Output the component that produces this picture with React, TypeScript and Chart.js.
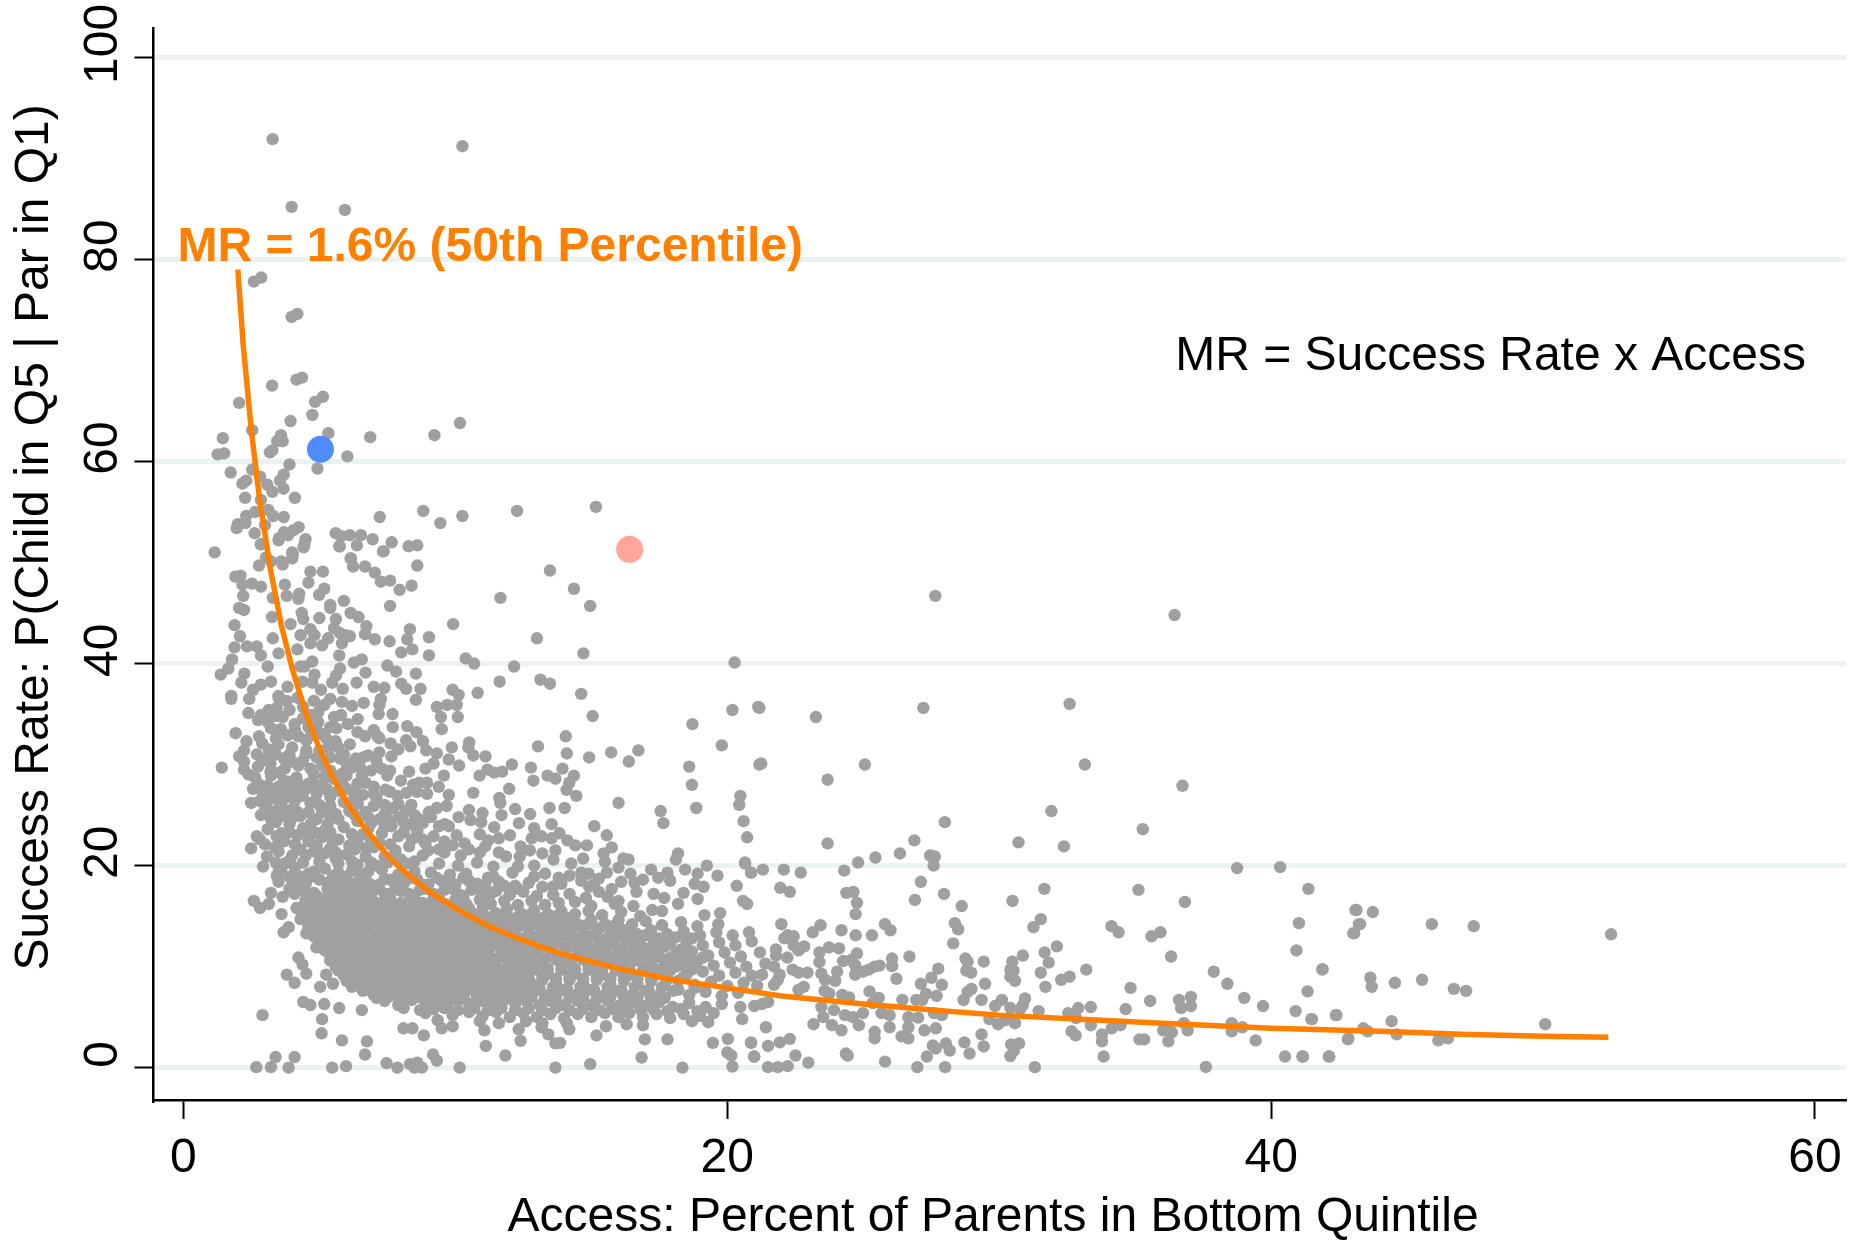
import React, { useEffect, useRef } from "react";
import { Chart, registerables } from "chart.js";

Chart.register(...registerables);

const xTitle = "Access: Percent of Parents in Bottom Quintile ";
const yTitle = "    Success Rate: P(Child in Q5 | Par in Q1)";
const curveLabel = "MR = 1.6% (50th Percentile)";
const formulaLabel = "MR = Success Rate x Access";
const xTickValues = [0, 20, 40, 60];
const yTickValues = [0, 20, 40, 60, 80, 100];

const curveX = [2.0, 2.2, 2.5, 2.8, 3.2, 3.6, 4, 4.5, 5, 5.5, 6, 6.5, 7, 7.5, 8, 9, 10, 11, 12, 13, 14, 15, 16, 18, 20, 22, 25, 28, 30, 33, 36, 40, 44, 47, 50, 52.4];
const curveY = [79, 71.5, 63, 56.3, 49.3, 43.8, 39.5, 35.1, 31.6, 28.7, 26.3, 24.3, 22.6, 21, 19.7, 17.5, 15.8, 14.3, 13.1, 12.1, 11.2, 10.5, 9.8, 8.7, 7.9, 7.1, 6.3, 5.6, 5.2, 4.8, 4.4, 3.9, 3.6, 3.3, 3.1, 3];

const bluePoint = [5.04, 61.2];
const pinkPoint = [16.41, 51.3];

const topOutliers = [3.28,91.9,10.26,91.2,3.98,85.2,5.94,84.9,2.86,78.2,2.59,77.8,4.19,74.6,3.98,74.3,4.36,68.3,4.16,68.1,3.26,67.5,2.05,65.8,5.13,66.4,4.84,65.9,4.74,64.6,3.94,64,10.17,63.8,2.53,63.1,1.45,62.3,3.59,62.6,3.65,62,3.45,62,5.33,62.8,6.87,62.4,9.23,62.6,3.27,61.1,3.18,60.9,1.5,60.8,1.26,60.7,6.03,60.5,3.9,59.7,4.93,59.3,1.74,58.9,2.53,59.2,2.82,58.5,3.69,58.7,3.55,58.1,2.31,58.1,2.17,57.8,3.08,57.7,3.27,57,3.68,57.3,2.27,56.4,2.85,56.2,4.1,56.4,12.27,55.1,15.17,55.5,8.82,55.1,7.22,54.5,10.26,54.6,9.45,53.9,3.12,55.2,2.64,55,2.31,54.6,2,53.8,1.96,53.4,2.28,53.9,3.3,54.6,3.69,54.5,3,53.7,4.24,53.5,4.05,53.2,3.7,53,3.85,52.7,3.52,52.4,2.62,52.9,2.85,51.8,4.49,52.3,4.42,51.5,4.02,50.8,5.6,52.9,5.8,52.6,6.12,52.7,6.53,52.7,6.96,52.3,7.66,52,5.73,51.6,6.38,51.7,7.34,51.1,8.28,51.6,8.6,51.7,6.16,50.4,1.15,51,3.04,50.5,3.6,50.1];

const upperArmLeft = [1.91,48.6,2.1,48.7,2.17,47.8,2.52,47.9,2.85,47.6,2.2,46.7,2.05,45.5,2.23,45.3,1.88,43.8,2.08,42.7,1.88,41.6,2.34,41.7,2.7,41.7,2.85,40.8,1.79,40.4,1.65,39.5,1.37,38.9,3.1,39.7,2.24,39,2.13,38.1,2.56,37.4,2.85,37.9,3.22,38.2,2.42,36.5,1.76,36.8,1.76,36.5,3.5,36.8,3.83,37.7,4.3,39.7,2.85,51.8,3.5,52.2,4.45,51.8,2.78,49.7,3.22,50.1,3.65,49.8,4,50.4,4,51,4.67,49.1,5.13,49.1,4.6,48,5.18,47.4,4.99,46.8,4.26,46.9,4.23,46.4,3.73,47.8,3.8,46.7,3.29,46.5,5.4,45.8,5.4,45.5,4.35,45,4.41,44.4,5,44.5,3.94,43.9,3.26,44.6,5.61,44.4,5.54,43.5,5.98,42.8,5.76,43,6.12,42.7,4.67,43.4,4.31,42.8,4.82,42.8,4.67,42,5.1,41.8,5.32,42.5,5.83,42,3.29,42.5,3.5,41,4.19,41.4,5.73,40.8,4.74,40.2,4.45,39.7,4.82,38.9,5.76,39.5,5.61,38.8,5.47,38.1,5.86,37.5,4.38,38.2,4.74,38.1,5.06,37.4,5.18,35.9,3.5,36.6,3.8,36.3,3.43,35.6,3.14,35.4,2.85,34.9,2.74,34.4,2.39,35.1,4.09,34,3.65,34.7,4.67,34.9,4.96,35.2,4.96,34.2,4.89,33.5,4.52,32.4,5.25,32.6,5.32,31.7,5.76,30.6,6.34,30.6,3.22,33.6,3.58,33.5,3.83,32.9,4.23,32.8,2.78,32.8,2.32,32.3,1.92,33.1,3.14,31.5,3.5,32,4,31.7,4.52,31.4,2.23,31.4,2.05,30.8,2.23,30.3,2.74,29.8,2.23,29.5,1.41,29.7];

const upperArmRight = [5.75,51.6,7.36,51.1,6.15,50.4,6.24,49.6,6.68,49.6,7.04,49,7.26,48.1,7.6,48.2,8.6,49.7,8.39,47.7,7.95,47.3,7.6,45.7,5.9,46.2,6.15,45,6.44,44.6,6.73,43.7,6.68,42.9,7.04,42.4,7.58,42.2,8.01,41.1,8.42,41.4,9.03,40.8,6.27,40.1,6.56,40.4,6.7,39.1,7.5,39.8,7.82,39.2,8.55,39,6.37,38.1,7,37.7,7.39,37.6,8.01,38,8.19,37.5,8.72,37.5,8.55,36.4,9.9,37.4,10.12,36.9,10.05,35.9,9.7,35.9,9.32,35.7,9.47,34.7,10.09,34.7,9.5,33.5,5.83,36.2,6.2,35.8,6.63,36.1,7.26,36.5,7.21,35.9,7.18,35,7.69,35,6.41,34.5,6.05,34,5.54,34.7,5.62,33.6,6.68,32.8,7.14,32.8,7.21,32.6,8.23,33.8,8.57,33.2,8.81,32.3,8.19,32.4,8.35,31.8,8.93,31.4,9.32,31.1,7.62,32.1,7.9,31.5,7.65,30.8,6.79,30.9,6.12,32,5.69,31.7,9.87,31.7,9.76,30.5,10.14,29.9,10.51,32.2,10.48,31.7,10.66,30.9,11.11,30.8,12.08,30,12.78,29.7,11.18,29.5,10.89,28.9,11.43,29.2,11.72,29.3,13.39,28.9,13.68,28.6,13.94,29.6,14.36,28.9,12.87,28.4,14.19,28.2,14.09,27.5,14.45,26.9,11.98,27.6,11.62,26.7,11.65,26.2,10.66,27.2,9.58,28.9,9.39,27.8,9.76,27,9.68,25.9,9.32,25.7,8.96,28.2,8.67,28.2,8.45,28,8.59,27.3,8.96,27.1];

const scatteredMiddle = [13.48,49.2,14.36,47.4,14.96,45.7,11.66,46.5,9.92,43.9,13,42.5,9.03,42.6,8.33,43.4,8.23,42.4,14.71,41,20.27,40.1,10.38,40.5,10.69,40,12.16,39.7,11.63,38.2,13.13,38.4,13.48,38,14.63,37,10.82,37.1,15.05,34.8,20.19,35.4,18.72,34,21.14,35.7,19.8,31.9,13.04,31.8,14.06,32.8,14.1,31.1,14.92,30.7,15.73,31.2,16.73,31.4,16.38,30.3,18.6,29.8,18.7,28,16,26.2,18.86,25.7,20.48,26.9,20.44,26,21.18,30,17.55,25.4,17.65,24.2,20.6,24.4,20.73,22.8,27.65,46.7,36.45,44.8];

const midBand = [2.64,28.7,3.22,28.9,3.73,29.6,4.23,29.9,4.67,29.6,5.1,29.9,4.16,28.7,4.82,28,3.5,27.8,2.56,27.6,2.93,27.1,3.8,26.8,4.38,26.9,2.49,26.2,3.07,26.2,3.5,26.4,3.94,25.5,4.67,26.2,2.85,25,3.22,24.6,3.54,24.8,5.1,25.3,5.69,28.9,5.9,29.2,5.83,28.2,6.41,30.3,6.56,28.9,6.7,28.2,7,27.8,7.29,29.6,7.5,28.9,7.43,27.5,7.87,26.9,6.23,27.3,6.41,26.1,7,25.9,7.72,25.7,8.38,26,7.21,24.6,7.65,23.9,7.94,24.8,8.38,24.1,8.67,24.6,9.03,25.3,9.61,24.1,10.12,24.8,10.56,24.5,10.95,24.3,11.43,23.8,10.05,23,9.76,23.9,10.34,22.2,11.21,22.5,12.01,23,12.34,24.2,12.75,25.1,13.46,25.7,14.02,25.7,13.54,24.1,15.11,23.9,15.57,23,13.83,23.2,14.12,22.5,14.41,22,14.84,22,15.75,21.8,15.45,21.2,12.81,22.7,13.17,22.9,13.54,22.7,13.68,21.5,13.61,20.6,12.74,21.5,12.37,20.9,11.86,20.9,16.18,20.7,16.37,20.6,16,19.8,18.19,21.2,18.11,20.6,19.25,20,18.45,19.6,17.46,18.8,19.64,19,18.91,19.2,20.66,20.2,20.88,19.3,16.44,19.2,16.59,18.3,16.66,17.4,15.57,19.3,15.28,18.7,14.63,19.3,14.63,18.5,14.92,17.9,15.28,17.4,15.75,17.7,14.26,20.2,13.58,17.9,16,16.5,15.86,16.2,16.55,16,17.29,17.2,17.68,16.8,17.9,18.5,18.39,17.3,18.91,16.7,19.13,17.9,18.8,18.2,20.35,18,20.58,16.5,20.73,16.2,18.19,16.2,17.24,15.6,17.6,15.5,19.16,15.1,19.74,15.3,19.67,14.2,
4.2,28.1,4.9,27.1,5.4,26.8,5.9,26.3,6.1,25.4,5.6,25.1,4.9,24.6,4.3,24.9,3.9,24.1,3.1,23.6,3.6,23.2,4.4,23.7,5.3,24.1,5.9,23.8,6.4,24.4,6.9,24.2,6.6,23.1,7.3,23.2,7.9,22.9,8.6,23.4,9.2,22.9,8.9,22.2,8.3,21.9,7.6,22.1,7,21.8,6.4,22.3,5.7,22.6,5.1,22.8,4.6,22.4,4.1,22.1,3.5,21.4,4,21,4.8,21.4,5.4,21.7,6,21.1,6.7,20.9,7.4,20.9,8,20.6,8.8,21,9.6,21.3,10.2,21,10.9,21.3,9.4,20.2,10.1,20,10.8,20.3,11.4,19.9,12.3,19.9,12.9,20,5,20.4,5.7,20.2,4.4,20.3,6.4,20.1,7.1,20];

const coreUpper = [3.6,19.4,4.1,19.8,4.6,19.2,5.2,19.7,5.7,19.3,6.2,19.5,6.8,19.4,7.3,19.6,7.9,19.1,8.5,19.4,9.1,19.3,9.8,19.1,10.4,19.2,11.2,18.8,12.1,19.3,12.9,18.9,13.3,19.2,
4,18.5,4.5,18.2,5,18.6,5.4,18.1,5.9,18.7,6.3,18.2,6.7,18.6,7.2,18.1,7.6,18.6,8.1,18.2,8.6,18.6,9,18.1,9.5,18.5,10,18.1,10.5,18.5,11.1,18,11.6,18.4,12.2,18,12.7,18.3,13.2,17.9,13.9,18.2,
4.4,17.6,4.8,17.3,5.3,17.7,5.7,17.2,6.1,17.6,6.5,17.2,7,17.6,7.4,17.2,7.8,17.7,8.3,17.2,8.7,17.6,9.2,17.2,9.6,17.6,10.1,17.2,10.6,17.6,11,17.1,11.5,17.5,12,17.1,12.5,17.4,13,17,13.6,17.1,14.2,17.2,
4.5,16.6,4.9,16.2,5.2,16.7,5.6,16.3,6,16.7,6.4,16.3,6.8,16.7,7.2,16.2,7.6,16.7,8,16.3,8.4,16.7,8.8,16.3,9.2,16.7,9.6,16.2,10,16.6,10.4,16.2,10.9,16.6,11.3,16.2,11.8,16.5,12.3,16.1,12.8,16.5,13.3,16.1,13.8,16.3,14.4,16.4,15,16,
4.6,15.6,5,15.3,5.4,15.7,5.8,15.3,6.2,15.7,6.6,15.3,7,15.7,7.4,15.3,7.8,15.7,8.2,15.3,8.6,15.7,9,15.3,9.4,15.7,9.8,15.3,10.2,15.7,10.6,15.3,11,15.7,11.5,15.3,11.9,15.7,12.4,15.3,12.9,15.6,13.4,15.2,13.9,15.5,14.4,15.2,14.9,15.5,15.4,15.1,16.1,15.4,16.8,15,
4.7,14.6,5.1,14.3,5.5,14.7,5.9,14.2,6.3,14.7,6.7,14.3,7.1,14.7,7.5,14.3,7.9,14.7,8.3,14.3,8.7,14.7,9.1,14.3,9.5,14.7,9.9,14.3,10.3,14.7,10.7,14.3,11.1,14.7,11.6,14.3,12,14.7,12.5,14.3,13,14.6,13.5,14.2,14,14.6,14.5,14.2,15,14.6,15.5,14.2,16,14.6,16.5,14.2,17,14.5,17.6,14.1,18.3,14.4,18.9,14,
4.9,13.6,5.3,13.2,5.7,13.7,6.1,13.3,6.5,13.7,6.9,13.3,7.3,13.7,7.7,13.3,8.1,13.7,8.5,13.3,8.9,13.7,9.3,13.3,9.7,13.7,10.1,13.3,10.5,13.7,10.9,13.3,11.3,13.7,11.8,13.3,12.2,13.7,12.7,13.3,13.2,13.7,13.7,13.3,14.2,13.7,14.7,13.2,15.2,13.6,15.7,13.2,16.2,13.6,16.7,13.2,17.2,13.6,17.8,13.2,18.4,13.5,19,13.1,19.6,13.4,20.2,13.1,20.8,13.4];

const coreLower = [5,12.6,5.4,12.2,5.8,12.7,6.2,12.3,6.6,12.7,7,12.3,7.4,12.7,7.8,12.3,8.2,12.7,8.6,12.3,9,12.7,9.4,12.3,9.8,12.7,10.2,12.3,10.6,12.7,11,12.3,11.4,12.7,11.9,12.3,12.3,12.7,12.8,12.3,13.3,12.7,13.8,12.3,14.3,12.7,14.8,12.2,15.3,12.6,15.8,12.2,16.3,12.6,16.8,12.2,17.3,12.6,17.9,12.2,18.5,12.5,19.1,12.1,19.7,12.4,20.3,12.1,20.9,12.5,
5.2,11.6,5.6,11.2,6,11.7,6.4,11.3,6.8,11.7,7.2,11.3,7.6,11.7,8,11.3,8.4,11.7,8.8,11.3,9.2,11.7,9.6,11.3,10,11.7,10.4,11.3,10.8,11.7,11.2,11.3,11.7,11.7,12.1,11.3,12.5,11.7,13,11.3,13.5,11.7,14,11.3,14.5,11.7,15,11.2,15.5,11.6,16,11.2,16.5,11.6,17,11.2,17.5,11.6,18.1,11.2,18.7,11.5,19.3,11.1,19.9,11.4,20.5,11,21.2,11.4,
5.4,10.6,5.8,10.2,6.2,10.7,6.6,10.3,7,10.7,7.4,10.3,7.8,10.7,8.2,10.3,8.6,10.7,9,10.3,9.4,10.7,9.8,10.3,10.2,10.7,10.6,10.3,11,10.7,11.4,10.3,11.9,10.7,12.3,10.3,12.7,10.7,13.2,10.3,13.7,10.7,14.2,10.3,14.7,10.7,15.2,10.2,15.7,10.6,16.2,10.2,16.7,10.6,17.2,10.2,17.7,10.6,18.3,10.2,18.9,10.5,19.5,10.1,20.1,10.4,20.7,10,21.4,10.3,
5.7,9.6,6.1,9.2,6.5,9.7,6.9,9.3,7.3,9.7,7.7,9.3,8.1,9.7,8.5,9.3,8.9,9.7,9.3,9.3,9.7,9.7,10.1,9.3,10.5,9.7,10.9,9.3,11.3,9.7,11.7,9.3,12.1,9.7,12.5,9.3,12.9,9.7,13.4,9.3,13.9,9.7,14.4,9.3,14.9,9.7,15.4,9.2,15.9,9.6,16.4,9.2,16.9,9.6,17.4,9.2,17.9,9.6,18.5,9.2,19.1,9.5,19.7,9.1,20.3,9.4,20.9,9.1,
6,8.6,6.4,8.2,6.8,8.7,7.2,8.3,7.6,8.7,8,8.3,8.4,8.7,8.8,8.3,9.2,8.7,9.6,8.3,10,8.7,10.4,8.3,10.8,8.7,11.2,8.3,11.6,8.7,12,8.3,12.4,8.7,12.8,8.3,13.2,8.7,13.7,8.3,14.2,8.7,14.7,8.3,15.2,8.7,15.7,8.2,16.2,8.6,16.7,8.2,17.2,8.6,17.7,8.2,18.2,8.6,18.8,8.2,19.4,8.5,20,8.1,20.6,8.4,21.1,8.1,
6.6,7.6,7,7.2,7.4,7.7,7.8,7.3,8.2,7.7,8.6,7.3,9,7.7,9.4,7.3,9.8,7.7,10.2,7.3,10.6,7.7,11,7.3,11.4,7.7,11.8,7.3,12.2,7.7,12.6,7.3,13,7.7,13.5,7.3,14,7.7,14.5,7.3,15,7.7,15.5,7.2,16,7.6,16.5,7.2,17,7.6,17.5,7.2,18,7.6,18.6,7.2,19.2,7.5,19.8,7.1,20.4,7.4,
7.4,6.6,7.9,6.2,8.4,6.7,8.9,6.3,9.3,6.7,9.7,6.2,10.1,6.7,10.5,6.3,11,6.6,11.4,6.2,11.8,6.7,12.2,6.3,12.6,6.6,13.1,6.2,13.5,6.6,14,6.2,14.5,6.6,15,6.2,15.6,6.6,16,6.1,16.5,6.5,17,6.1,17.5,6.5,18,6,18.6,6.4,19.2,6,19.8,6.3,
8.9,5.4,9.9,5.2,10.5,5.5,11,5.1,11.5,5.5,12,5,12.5,5.4,13,5,13.5,5.3,14,4.9,14.5,5.3,15,5,15.5,5.4,16,5,16.4,5.4,16.9,5,17.4,5.3,17.9,4.9,18.4,5.3,19,5.1,19.5,5.4,10.9,4.6,11.6,4.4,12.6,4.6,13.2,4.4,14.1,4.4,16.3,4.3,16.9,4.2,18.7,4.6,19.3,4.5];

const leftArmFill = [3.1,34.2,3.4,31,3.7,30.6,3.2,30.1,2.7,31,2.9,30.4,3.5,29.2,3.9,28.3,3.1,27.9,2.8,28,2.4,29,3.3,27.1,3.6,26.1,3.9,27.4,4.5,27.6,4.1,26.4,2.8,26.4,3,25.5,3.4,25.4,3.7,25.1,4.2,25.3,4.6,25.3,5,26,5.3,27.5,5.5,28.6,5.2,28.8,4.8,29,4.4,30.4,4.9,30.7,4,30.3,4.7,32.9,4.1,33.4,3.4,34.8,3.9,35.4,4.4,35.7,4.2,36.6,4.8,36.3,5.4,36.5,5.1,33,5.6,32.3,5.9,31,6.2,29.7,6.4,28.1,6.9,29.4,6,27.6,6.6,27,7.1,26.7,6.7,25.3,7.4,25.1,7.9,26.1,8.2,27.2,5.4,23.3,4.9,23.2,4.2,23,3.7,22.4,4.5,21,5.2,21.2,5.6,20.7,6.3,21.6,6.9,22.5,7.4,23.8,8.1,23.3,8.8,22.6,9.6,22.4,9.4,21.6,8.5,20.4,7.7,20.9,6.2,20.4,6.9,20.3,7.5,20.3,8.2,20.2,3.4,20.3,3.9,20.5,2.7,22.9,3,22.1,3.9,18.9,3.5,18.4,3.9,17.7,4.3,18.9,4.8,19.4,5.5,19,6,18.9,6.6,19.1];

const midFill = [5.6,21.3,6.1,22,6.7,21.7,7.2,22.3,7.8,21.5,8.4,22.6,9,21.5,9.9,22,10.5,21.6,11.1,21.9,11.6,21.3,4.3,21.6,4.9,22,5.5,22.3,3.9,23.3,4.6,23.1,5.2,23.5,5.7,24.6,6.2,23.1,6.8,23.7,7.6,24.5,8.1,24.3,8.8,24.2,9.4,23.9,9.1,24.8,8.5,25,3.4,24.3,4,24.7,4.7,24.2,5.4,24.8,6.3,25,6.8,24.8,7.4,26,6.2,26.2,5.4,25.9,5.7,27.4,6.3,26.9,7,27.1,7.6,27.3,8.2,25.4,3.1,26.8,3.6,27.3,4.2,27.2,4.6,28.1,5.1,28,5.4,29.4,6,28.9,6.5,29.7,7.1,30.4,7.6,29.4,8,28.4,8.3,29.3,8.9,29.6,9.2,30.1,3.2,29.3,3.7,28.4,3.1,30.7,3.9,31,4.5,31,5,31.4,5.4,30.7,6,30.1,6.6,30.7,7.2,31.2,2.9,32.1,3.4,32.6,4.6,33.7,4.4,34.6,5.4,33.7,5.8,34.9,6.4,33.2,7,33.4,7.7,33.7,10.5,25.5,11,25.2,11.7,25,12.2,25.6,10.9,23.1,11.6,22.7,12.4,21.9,12.9,23.7,13.2,21.2,14.7,20.7,14.9,19.2,15.5,20.4,15.1,18.1,16.1,18.4,15.6,16.9,14.8,16.8,16.9,18.6,17.2,19.6,17.8,19.3,14.2,19,13.8,18.8];

const coreFill = [4.4,16,4.8,15.8,5.1,16.2,5.4,15.9,5.8,16,6.1,16.2,6.5,15.9,6.8,15.9,7.1,16.3,7.5,16,7.8,16.1,8.1,15.8,8.5,16.2,8.9,15.9,9.3,16.1,9.7,15.8,10.1,16,10.5,15.8,
4.9,17,5.5,16.9,5.8,17.7,6.2,17.1,6.7,17.8,6.9,17.1,7.2,17.7,7.6,17.2,8,17.5,8.5,17.1,8.9,17.7,9.4,17.1,9.9,17.7,10.3,17,10.8,17.9,11.3,17.2,11.8,18,12.3,17.7,
4.7,18.9,5.3,18.3,5.7,18.4,6.1,18,6.5,18.8,6.9,18.1,7.4,18.7,7.8,18.1,8.3,18.7,8.8,18.1,9.3,18.8,9.8,18.4,10.3,18.8,10.8,18.2,11.4,18.9,
4.4,15,4.7,15.2,5.2,14.9,5.6,15,6,15,6.4,14.8,6.8,15.1,7.2,14.9,7.6,15.1,8,14.9,8.4,15.1,8.8,14.9,9.2,15.1,9.6,14.9,10,15.2,10.4,14.9,10.9,15,11.3,14.9,11.8,15.1,12.2,14.8,12.7,15.1,13.2,14.8,13.7,15,14.2,14.8,
4.6,14,5,13.7,5.3,14,5.7,13.9,6.1,14,6.5,13.9,6.9,14.2,7.3,13.8,7.7,14,8.1,13.9,8.5,14.2,8.9,13.9,9.3,14,9.7,13.8,10.1,14.1,10.5,13.9,10.9,14.1,11.4,13.8,11.9,14.1,12.3,13.9,12.8,14.1,13.3,13.8,13.8,14,14.3,13.8,14.8,14.1,15.3,13.8,15.8,14,16.4,13.7,
4.8,13,5.2,12.8,5.6,13,6,12.7,6.4,13,6.8,12.8,7.2,13,7.6,12.7,8,13.1,8.4,12.8,8.8,13,9.2,12.8,9.6,13,10,12.8,10.4,13.1,10.8,12.8,11.2,13,11.6,12.8,12,13.1,12.5,12.8,13,13,13.5,12.8,14,13.1,14.5,12.8,15,13,15.5,12.7,16,13,16.5,12.7,17,13.1,17.5,12.8,18.1,12.9,18.7,12.8,
5.1,12.1,5.6,11.8,6,12.1,6.4,11.8,6.8,12.1,7.2,11.8,7.6,12.1,8,11.8,8.4,12.1,8.8,11.8,9.2,12.1,9.6,11.9,10,12.1,10.4,11.8,10.8,12.1,11.3,11.9,11.7,12.2,12.2,11.9,12.6,12.1,13.1,11.8,13.6,12.1,14.1,11.9,14.6,12.2,15.1,11.8,15.6,12.1,16.1,11.8,16.6,12,17.1,11.8,17.7,12,18.3,11.7,
5.4,11,5.8,10.8,6.2,11,6.6,10.8,7,11.1,7.4,10.8,7.8,11.1,8.2,10.8,8.6,11,9,10.8,9.4,11.1,9.8,10.8,10.2,11,10.6,10.8,11.1,11,11.5,10.8,12,11.1,12.4,10.8,12.8,11.1,13.3,10.8,13.8,11,14.3,10.8,14.8,11.1,15.3,10.8,15.8,11,16.3,10.8,16.8,11.1,17.3,10.8,17.9,10.9,18.5,10.7,19.1,10.9,
5.6,10,6,9.8,6.4,10.1,6.8,9.8,7.2,10.1,7.6,9.8,8,10.1,8.4,9.8,8.8,10.1,9.2,9.8,9.6,10.1,10,9.8,10.4,10.1,10.8,9.8,11.2,10.1,11.6,9.8,12,10.1,12.5,9.8,12.9,10.1,13.4,9.8,13.9,10.1,14.4,9.8,14.9,10.1,15.4,9.8,15.9,10.1,16.4,9.8,17,10,17.5,9.7,18.1,10,18.7,9.7,
5.9,9.1,6.3,8.8,6.7,9.1,7.1,8.8,7.5,9.1,7.9,8.8,8.3,9.1,8.7,8.8,9.1,9.1,9.5,8.8,9.9,9.1,10.3,8.8,10.7,9.1,11.1,8.8,11.5,9.1,11.9,8.8,12.3,9.1,12.7,8.8,13.2,9.1,13.7,8.8,14.2,9.1,14.7,8.8,15.2,9.1,15.7,8.8,16.2,9.1,16.7,8.8,17.2,9.1,17.8,8.8,18.4,9,
6.2,8,6.7,7.7,7.1,8,7.5,7.7,7.9,8,8.3,7.8,8.7,8.1,9.1,7.8,9.5,8,9.9,7.8,10.3,8.1,10.7,7.8,11.1,8.1,11.5,7.8,11.9,8,12.3,7.8,12.7,8.1,13.1,7.8,13.6,8,14.1,7.8,14.6,8,15.1,7.7,15.6,8,16.1,7.7,16.6,8,17.1,7.7,17.6,8,18.2,7.7,18.8,7.9,
7.1,6.9,7.6,7.1,8.1,6.9,8.6,7,9,6.9,9.5,7,9.9,6.8,10.3,7,10.8,6.9,11.2,7,11.6,6.8,12,7,12.4,6.9,12.8,7,13.3,6.9,13.7,7,14.2,6.9,14.7,7,15.2,6.8,15.7,7,16.2,6.8,16.7,6.9,17.2,6.8,17.7,6.9,
8.1,5.9,8.7,5.7,9.2,5.8,9.6,5.9,10.1,5.7,10.7,5.9,11.2,5.7,11.7,5.9,12.2,5.7,12.7,5.9,13.2,5.7,13.7,5.9,14.2,5.7,14.7,5.8,15.3,5.7,15.8,5.8,16.3,5.7,16.8,5.8,17.3,5.7,17.8,5.6,18.3,5.8,18.9,5.6];

const lowEdge = [2.81,22.6,2.49,21.7,2.93,19.9,3.43,22.9,3.36,21.8,3.07,20.9,3.51,19.7,3.43,19,3.73,20.2,4.09,18.3,3.22,17.3,3.65,16.9,4.09,17.2,2.59,16.5,2.82,15.8,3.14,16.2,4.16,15.8,3.61,15.2,4.31,14.7,3.87,13.9,3.68,13.4,4.52,13.3,4.89,13,4.89,11.9,4.23,10.9,4.38,10.2,3.8,9.2,4.09,8.4,4.52,9.3,5.25,9.2,5.03,8,5.5,8.3,4.41,6.5,4.67,6.2,5.18,6.3,5.73,5.9,6.56,5.7,2.91,5.2,5.1,4.8,5.08,3.4,5.83,2.7,6.75,2.6,6.68,1.3,2.68,0.05,3.22,0.05,3.87,0,5.47,0,5.98,0.15,3.39,1.05,4.09,1.05,7.47,0.45,7.87,0,8.33,0.35,8.6,0.5,8.5,0,8.77,0,10.16,0,13.68,0,14.96,0.35,16.85,1,18.35,0,20.19,0.1,9.18,1.3,9.32,0.7,11.84,1.2,11.12,2.15,13.68,2.4,13.85,2.45,12.4,2.65,12.33,3.8,8.84,3.2,8.09,3.9,8.42,3.9,9.5,3.9,9.9,4.1,9.35,4.7,11.07,3.7,15.19,3.2,15.54,4.1,16.97,2.8,17.8,2.8,19.47,2.45,20.02,2.85,20,1.5,20.15,1.2,20.88,2.45,20.99,1.1,13.42,3.3,13.17,4,14.19,3.8];

const rightSpread = [21.18,35.6,23.26,34.7,27.21,35.6,32.59,36,21.25,30.1,25.06,30,33.15,30,23.69,28.5,36.74,27.9,28,24.3,31.92,25.4,35.28,23.6,23.69,22.2,26.88,22.5,26.35,21.2,25.45,20.8,24.81,20.3,24.3,19.5,30.71,22.3,32.38,21.9,27.46,21,27.63,20.9,27.59,20,27.12,18.4,38.75,19.75,40.33,19.85,20.65,20.3,21.31,19.6,20.87,19.3,22.08,19.6,22.7,19.3,21.95,17.8,22.3,17.4,24.38,17.3,24.64,17.4,24.77,16.3,24.72,15.2,27.97,17.2,26.9,16.6,28.62,16,30.49,16.5,31.66,17.7,35.12,17.6,36.83,16.4,41.37,17.7,43.1,15.6,43.23,14.2,43.02,13.3,41.02,14.3,40.93,11.6,41.88,9.7,41.34,7.55,40.9,5.6,41.48,4.8,42.38,5.2,42.82,2.8,40.51,1.1,41.15,1.1,42.12,1.1,37.6,0.07,39.7,6.1,39.01,6.9,38.39,8.3,37.89,9.5,36.32,11,35.6,13,35.93,13.4,34.39,13.4,34.13,14,33.2,9.7,34.83,7.9,32.12,12,31.67,11.4,31.82,10.4,31.53,9.4,30.87,11.1,31.53,14.7,31.26,13.9,32.28,8.7,32.59,9,31.7,8,30.48,10.5,30.41,9.7,30.53,9.6,30.41,9,30.58,8.6,29.43,10.5,28.76,10.8,28.84,10.5,28.79,9.6,28.97,9.4,29.48,8.3,28.31,12.3,28.49,13.7,28.37,14.3,26.7,11,27.76,9.8,27.51,8.9,27.89,8.2,27.12,8.3,26.22,8.8,26.06,10.8,26.06,10.05,25.6,10.1,25.42,10,25.2,9.7,24.99,9.5,24.7,9.2,25.8,14.2,26,13.6,25.32,13.1,24.72,13.1,24.2,13.6,23.43,14.1,23.14,13.4,21.99,14.2,22.44,13,22.22,13.1,22.1,12.8,22.83,12,22.62,11.6,22.44,12.1,23.74,11.9,24.11,11.8,21.79,11.7,21.79,11.1,22.21,10.9,23.39,11.4,23.39,10.45,24.77,11.3,24.26,10.55,24.55,10.65,24.7,10.15,21.72,10,22.4,9.7,22.62,9.4,22.95,9.4,23.46,9.3,24.04,9.5,21.93,9.2,21.28,9.2,23.6,8.7,23.97,8.6,21.72,8.2,21.86,8.7,22.81,8,22.62,7.7,23.58,7.6,23.75,7.35];

const rightLine = [25.23,7.55,24.23,7.2,24.48,6.95,25.57,6.9,25.35,6.4,26.44,6.7,26.95,6.7,27.31,7.3,27.17,6.7,27.7,7.1,28.69,6.7,28.84,7.5,28.98,7.8,29.35,6.7,29.85,6.1,30.1,6.7,30.95,6.85,30.87,6.2,30.77,5.8,30.41,5.9,31.45,5.6,32.91,5.9,32.54,5.4,33.37,6,34.65,5.8,35.55,6.6,36.61,6.7,37.05,7,36.69,5.9,37.05,6.1,20.48,6,20.55,4.8,20.99,6.1,21.28,6.3,21.5,6.5,21.42,4,20.87,2.5,21.5,2.15,21.93,2.5,22.3,2.85,20.99,1.1,22.51,1.2,22.98,0.5,21.5,0.05,21.86,0.05,22.22,0.15,23.17,4.3,23.46,6,23.53,5,23.85,4.2,24.2,3.7,23.92,5.7,24.33,5.2,24.62,5,24.99,5.4,24.84,4.2,25.42,3.55,25.42,2.9,25.67,5.4,25.97,5.2,25.97,4,26.41,3.1,26.66,2.9,26.66,4,26.66,5,27.02,4.95,27.25,3.7,27.67,3.9,27.6,5.4,27.89,5.2,24.36,1.4,24.43,1.2,25.8,0.6,26.99,0.05,27.34,1.1,27.56,2.2,27.67,1.9,28.04,2.4,28.18,1.7,28.01,0.05,28.72,2.5,28.91,1.4,29.35,3.3,29.43,2.1,29.64,4.8,29.96,4.3,30.22,4.7,30.58,4.4,30.44,2.3,30.73,2.4,30.54,1.7,30.41,1.15,31.31,0.05,32.66,3.6,32.81,3.2,32.83,4.9,33.37,4.2,33.78,3.3,33.78,2.6,34.14,3.9,34.46,4.2,33.84,1.1,35.16,2.8,35.33,2.8,36.03,3.7,36.35,3.5,36.22,2.6,36.79,4.4,36.93,3.7,38.55,4.4,38.55,3.6,38.94,4,39.43,2.7,36.15,3.9];

const farRight = [43.14,15.6,43.74,15.4,43.27,14.2,43.05,13.3,45.91,14.2,47.45,14,52.5,13.2,41.89,9.75,43.65,8.9,43.7,8,44.55,8.4,45.55,8.7,46.72,7.8,47.17,7.6,41.5,4.8,42.4,5.2,44.43,4.6,50.08,4.3,43.39,3.9,43.55,3.6,44.62,3.3,42.84,2.9,46.15,2.7,46.5,2.9,42.14,1.1,41.17,1.1];

const toPoints = (flat: number[]) => {
  const out: { x: number; y: number }[] = [];
  for (let i = 0; i < flat.length; i += 2) out.push({ x: flat[i], y: flat[i + 1] });
  return out;
};

const fontFamily = '"Liberation Sans", Arial, sans-serif';

const textPlugin = {
  id: "freeText",
  afterDatasetsDraw(chart: any) {
    const { ctx, scales } = chart;
    ctx.save();
    ctx.textBaseline = "middle";
    ctx.textAlign = "left";
    ctx.fillStyle = "#ff7f00";
    ctx.font = `bold 48px ${fontFamily}`;
    ctx.fillText(curveLabel, scales.x.getPixelForValue(-0.22), scales.y.getPixelForValue(81.15));
    ctx.fillStyle = "#000";
    ctx.font = `48px ${fontFamily}`;
    ctx.fillText(formulaLabel, scales.x.getPixelForValue(36.47), scales.y.getPixelForValue(70.35));
    ctx.restore();
  },
};

export default function App() {
  const ref = useRef<HTMLCanvasElement>(null);
  useEffect(() => {
    const chart = new Chart(ref.current as HTMLCanvasElement, {
      type: "scatter",
      data: {
        datasets: [
          {
            type: "line",
            label: "MR = 1.6%",
            data: curveX.map((x, i) => ({ x, y: curveY[i] })),
            borderColor: "#ff7f00",
            borderWidth: 5.5,
            pointRadius: 0,
            fill: false,
            tension: 0,
            order: 0,
          },
          {
            label: "Highlight 1",
            data: [{ x: bluePoint[0], y: bluePoint[1] }],
            backgroundColor: "#4f8cff",
            borderWidth: 0,
            pointRadius: 13.5,
            order: 1,
          },
          {
            label: "Highlight 2",
            data: [{ x: pinkPoint[0], y: pinkPoint[1] }],
            backgroundColor: "#ffa59a",
            borderWidth: 0,
            pointRadius: 13.5,
            order: 1,
          },
          {
            label: "Colleges",
            data: [topOutliers, upperArmLeft, upperArmRight, scatteredMiddle, midBand, midFill, leftArmFill, coreUpper, coreLower, coreFill, lowEdge, rightSpread, rightLine, farRight].flatMap(toPoints),
            backgroundColor: "#a0a0a0",
            borderWidth: 0,
            pointRadius: 6.2,
            order: 2,
          },
        ],
      },
      options: {
        responsive: false,
        animation: false,
        layout: { autoPadding: false, padding: { top: 28, right: 6, left: 0, bottom: 0 } },
        plugins: { legend: { display: false }, tooltip: { enabled: false } },
        scales: {
          x: {
            type: "linear",
            min: -1.1,
            max: 61.14,
            afterFit: (s: any) => { s.height = 142; s.paddingRight = 0; s.paddingLeft = 0; },
            afterBuildTicks: (s: any) => { s.ticks = xTickValues.map((value) => ({ value })); },
            grid: { drawOnChartArea: false, drawTicks: true, tickLength: 19, tickWidth: 2, tickColor: "#000" },
            border: { color: "#000", width: 2.5 },
            ticks: { color: "#000", font: { family: fontFamily, size: 48 }, padding: 11, maxRotation: 0, minRotation: 0, autoSkip: false },
            title: { display: true, text: xTitle, color: "#000", font: { family: fontFamily, size: 48, lineHeight: 1 }, padding: { top: -5, bottom: 0 } },
          },
          y: {
            type: "linear",
            min: -3.2,
            max: 102.9,
            afterFit: (s: any) => { s.width = 153.5; s.paddingTop = 0; s.paddingBottom = 0; },
            afterBuildTicks: (s: any) => { s.ticks = yTickValues.map((value) => ({ value })); },
            grid: { color: "#eaf2f3", lineWidth: 5, drawTicks: true, tickLength: 19, tickWidth: 2, tickColor: "#000" },
            border: { color: "#000", width: 2.5 },
            ticks: { color: "#000", font: { family: fontFamily, size: 48 }, padding: -22.8, minRotation: 90, maxRotation: 90, crossAlign: "center", autoSkip: false, callback: (v: any) => "  " + v },
            title: { display: true, text: yTitle, color: "#000", font: { family: fontFamily, size: 48, lineHeight: 1 }, padding: { top: 11, bottom: 0 } },
          },
        },
      },
      plugins: [textPlugin],
    } as any);
    return () => chart.destroy();
  }, []);
  return (
    <canvas
      ref={ref}
      width={1852}
      height={1242}
      style={{ position: "absolute", left: 0, top: 0, width: 1852, height: 1242, display: "block" }}
    />
  );
}
